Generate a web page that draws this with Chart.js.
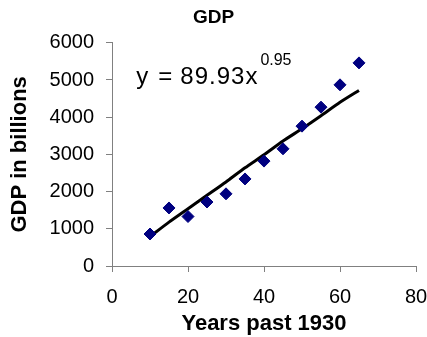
<!DOCTYPE html>
<html>
<head>
<meta charset="utf-8">
<script src="https://cdn.jsdelivr.net/npm/chart.js@4/dist/chart.umd.min.js"></script>
<style>
  html, body { margin: 0; padding: 0; background: #fff; }
  #wrap { width: 427px; height: 337px; }
</style>
</head>
<body>
<div id="wrap"><canvas id="grafico" width="427" height="337"></canvas></div>
<script>
// datos
const anios = [10, 15, 20, 25, 30, 35, 40, 45, 50, 55, 60, 65];
const pib = [860, 1560, 1330, 1720, 1940, 2340, 2820, 3150, 3760, 4270, 4870, 5460];
// linea de tendencia
const tendencia = [790, 1180, 1540, 1900, 2260, 2640, 2990, 3360, 3690, 4040, 4400, 4720];
const ticksX = [0, 20, 40, 60, 80];
const ticksY = [0, 1000, 2000, 3000, 4000, 5000, 6000];

const colorEje = '#808080';
const fuente = 'Arial, "Liberation Sans", sans-serif';

// texto de la ecuacion, anclado en unidades de datos
const ecuacion = { x: 6.4, y: 4890, base: 'y = 89.93x', exp: '0.95' };

const pluginEcuacion = {
    id: 'ecuacion',
    afterDatasetsDraw(chart) {
        const ctx = chart.ctx;
        const px = chart.scales.x.getPixelForValue(ecuacion.x);
        const py = chart.scales.y.getPixelForValue(ecuacion.y);
        ctx.save();
        ctx.fillStyle = '#000';
        ctx.textBaseline = 'alphabetic';
        ctx.textAlign = 'left';
        ctx.font = '24px ' + fuente;
        // Excel separa bastante los simbolos
        ctx.fillText('y', px, py);
        ctx.fillText('=', px + 22, py);
        ctx.letterSpacing = '1px';
        ctx.fillText('89.93x', px + 44, py);
        const w = ctx.measureText('89.93x').width;
        ctx.letterSpacing = '0px';
        ctx.font = '16px ' + fuente;
        ctx.fillText(ecuacion.exp, px + 44 + w + 2, py - 19);
        ctx.restore();
    }
};

const ctx = document.getElementById('grafico').getContext('2d');
const data = {
    datasets: [
        {
            label: 'GDP',
            data: anios.map((a, i) => ({ x: a, y: pib[i] })),
            showLine: false,
            pointStyle: 'rectRot',
            pointRadius: 6,
            pointBorderWidth: 1,
            backgroundColor: '#000080',
            borderColor: '#000080',
            order: 1
        },
        {
            label: 'Tendencia',
            data: anios.map((a, i) => ({ x: a, y: tendencia[i] })),
            showLine: true,
            borderColor: '#000',
            borderWidth: 3,
            pointRadius: 0,
            tension: 0.2,
            order: 2
        }
    ]
};

const opciones = {
    responsive: false,
    animation: false,
    layout: { padding: { left: 0, right: 0, top: 0, bottom: 0 } },
    plugins: {
        legend: { display: false },
        tooltip: { enabled: false },
        title: {
            display: true,
            text: 'GDP',
            color: '#000',
            font: { family: fuente, size: 19, weight: 'bold' },
            padding: { top: 6, bottom: 14 }
        }
    },
    scales: {
        x: {
            type: 'linear',
            min: 0,
            max: 80,
            afterBuildTicks: (s) => { s.ticks = ticksX.map(v => ({ value: v })); },
            afterFit: (s) => { s.height = 71; s.paddingLeft = 0; s.paddingRight = 11; },
            border: { display: true, color: colorEje, width: 1 },
            grid: { drawOnChartArea: false, drawTicks: true, tickLength: 6, color: colorEje },
            ticks: { color: '#000', padding: 13, maxRotation: 0, callback: v => String(v), font: { family: fuente, size: 20 } },
            title: {
                display: true,
                text: 'Years past 1930',
                color: '#000',
                font: { family: fuente, size: 22, weight: 'bold' },
                padding: { top: 0, bottom: 0 }
            }
        },
        y: {
            type: 'linear',
            min: 0,
            max: 6000,
            afterBuildTicks: (s) => { s.ticks = ticksY.map(v => ({ value: v })); },
            afterFit: (s) => { s.width = 112; },
            border: { display: true, color: colorEje, width: 1 },
            grid: { drawOnChartArea: false, drawTicks: true, tickLength: 6, color: colorEje },
            ticks: { color: '#000', padding: 12, callback: v => String(v), font: { family: fuente, size: 20 } },
            title: {
                display: true,
                text: 'GDP in billions',
                color: '#000',
                font: { family: fuente, size: 22, weight: 'bold' },
                padding: { top: 7, bottom: 0 }
            }
        }
    }
};

const grafico = new Chart(ctx, {
    type: 'scatter',
    data: data,
    options: opciones,
    plugins: [pluginEcuacion]
});
</script>
</body>
</html>
